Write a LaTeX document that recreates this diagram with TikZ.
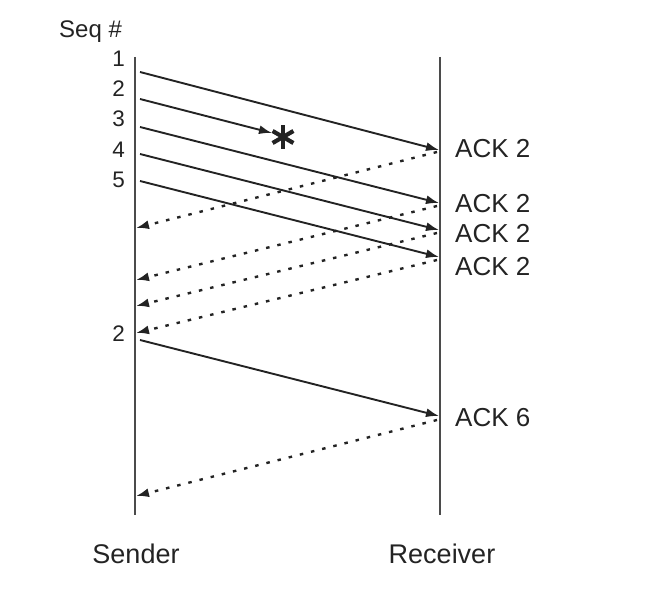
\documentclass[tikz,border=0pt]{standalone}
\usepackage{fontspec}
\setmainfont{Liberation Sans}
\usetikzlibrary{arrows.meta, positioning, calc}
\definecolor{inkgray}{RGB}{35, 35, 35}
\definecolor{linegray}{RGB}{75, 75, 75}

\begin{document}
\begin{tikzpicture}[
    x=1pt, y=-1pt,
    lifeline/.style={draw=linegray, line width=2.2pt},
    data/.style={-{Latex[length=13pt,width=9pt]}, line width=1.9pt, draw=inkgray},
    ack/.style={-{Latex[length=13pt,width=9pt]}, line width=2.4pt, draw=inkgray, dash pattern=on 3.5pt off 8pt},
    seqlabel/.style={anchor=base east, inner sep=0pt, font=\fontsize{22.5}{26}\selectfont, text=inkgray},
    acklabel/.style={anchor=base west, inner sep=0pt, font=\fontsize{26}{30}\selectfont, text=inkgray},
    endlabel/.style={anchor=base, inner sep=0pt, font=\fontsize{27}{32}\selectfont, text=inkgray}
]
\useasboundingbox (0,0) rectangle (656,596);

% lifelines
\coordinate (sendtop) at (135,57);
\coordinate (sendbot) at (135,515);
\coordinate (recvtop) at (440,57);
\coordinate (recvbot) at (440,515);
\draw[lifeline] (sendtop) -- (sendbot);
\draw[lifeline] (recvtop) -- (recvbot);

\node[endlabel] (sender) at (136,563) {Sender};
\node[endlabel] (receiver) at (442,563) {Receiver};

% sequence numbers
\node[anchor=base west, inner sep=0pt, font=\fontsize{24}{28}\selectfont, text=inkgray] (seqhead) at (59,38) {Seq \#};
\node[seqlabel] (seq1) at (125,67) {1};
\node[seqlabel] (seq2) at (125,97) {2};
\node[seqlabel] (seq3) at (125,127) {3};
\node[seqlabel] (seq4) at (125,158) {4};
\node[seqlabel] (seq5) at (125,188) {5};
\node[seqlabel] (reseq2) at (125,341) {2};

% segment start points on the sender
\coordinate (out1) at (140,72);
\coordinate (out2) at (140,99);
\coordinate (out3) at (140,127);
\coordinate (out4) at (140,154);
\coordinate (out5) at (140,181);
\coordinate (reout2) at (140,340);

% arrivals at the receiver
\coordinate (in1) at (439,150);
\coordinate (in3) at (439,203);
\coordinate (in4) at (439,230);
\coordinate (in5) at (439,257);
\coordinate (rein2) at (439,416);

% lost segment
\coordinate (lost) at (272,133);
\coordinate (star) at (283,137);

\draw[data] (out1) -- (in1);
\draw[data] (out2) -- (lost);
\draw[data] (out3) -- (in3);
\draw[data] (out4) -- (in4);
\draw[data] (out5) -- (in5);
\draw[data] (reout2) -- (rein2);

\foreach \a in {90, 30, 150}
    \draw[inkgray, line width=4.2pt] ($(star)+(\a:12)$) -- ($(star)+(\a+180:12)$);

% acknowledgements
\coordinate (ackout1) at (437,152);
\coordinate (ackout3) at (437,206);
\coordinate (ackout4) at (437,233);
\coordinate (ackout5) at (437,260);
\coordinate (ackout6) at (437,420);
\coordinate (ackin1) at (136,228);
\coordinate (ackin3) at (136,280);
\coordinate (ackin4) at (136,306);
\coordinate (ackin5) at (136,333);
\coordinate (ackin6) at (136,496);

\draw[ack] (ackout1) -- (ackin1);
\draw[ack] (ackout3) -- (ackin3);
\draw[ack] (ackout4) -- (ackin4);
\draw[ack] (ackout5) -- (ackin5);
\draw[ack] (ackout6) -- (ackin6);

\node[acklabel] (ack1) at (455,158) {ACK 2};
\node[acklabel] (ack3) at (455,213) {ACK 2};
\node[acklabel] (ack4) at (455,243) {ACK 2};
\node[acklabel] (ack5) at (455,276) {ACK 2};
\node[acklabel] (ack6) at (455,426) {ACK 6};

\end{tikzpicture}
\end{document}
